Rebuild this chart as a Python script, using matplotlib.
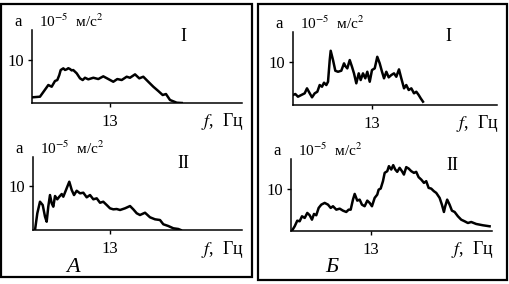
import matplotlib
matplotlib.use("Agg")
import matplotlib.pyplot as plt
from matplotlib.patches import Rectangle

plt.rcParams['font.family'] = ['Liberation Serif', 'DejaVu Serif']
plt.rcParams['mathtext.fontset'] = 'stix'

# ---------------- data (f in Hz, a in 1e-5 m/s^2) ----------------
a1_f = [0.12, 1.33, 2.33, 2.72, 3.28, 3.83, 4.22, 4.55, 4.78, 5.22, 5.5, 5.78, 6.05, 6.33, 6.6, 6.88,
        7.45, 8.0, 8.45, 8.83, 9.38, 10.22, 11.05, 11.88, 12.72, 13.55, 14.22, 14.95, 15.78,
        16.33, 17.17, 17.88, 18.55, 19.38, 20.22, 21.05, 21.78, 22.33, 23.0, 24.12, 24.95]
a1_a = [1.33, 1.47, 3.42, 4.19, 3.79, 5.12, 5.35, 6.51, 7.67, 8.07, 7.7, 7.84, 8.1, 7.91, 7.6, 7.67,
        6.91, 5.74, 5.35, 5.88, 5.51, 5.88, 5.58, 6.21, 5.58, 4.95, 5.58, 5.35, 6.12,
        5.88, 6.67, 5.74, 6.12, 4.95, 3.79, 2.79, 1.86, 2.09, 0.70, 0.07, 0.0]

a2_f = [0.34, 0.73, 1.18, 1.64, 2.03, 2.31, 2.58, 2.87, 3.16, 3.43, 3.72, 4.10, 4.44, 4.85, 5.12,
        5.57, 5.79, 6.13, 6.54, 6.93, 7.38, 7.94, 8.50, 9.07, 9.63, 10.19, 10.76, 11.32, 11.87,
        12.45, 13.01, 13.56, 14.14, 14.70, 15.54, 16.39, 16.94, 17.52, 18.07, 18.92, 19.76,
        20.61, 21.45, 22.01, 22.85, 23.70, 24.54, 24.95]
a2_a = [0.0, 3.80, 6.43, 5.68, 3.02, 1.89, 5.30, 7.95, 6.07, 5.30, 7.73, 6.98, 7.57, 8.18, 7.57,
        9.09, 9.84, 10.98, 9.09, 7.95, 8.93, 8.34, 8.48, 7.43, 7.95, 6.98, 7.20, 6.20, 6.43,
        5.68, 4.93, 4.70, 4.77, 4.55, 4.93, 5.45, 4.70, 3.80, 3.41, 3.93, 2.89,
        2.43, 2.27, 1.30, 0.91, 0.39, 0.23, 0.0]

b1_f = [0.0, 0.38, 0.82, 1.37, 1.92, 2.30, 2.75, 3.13, 3.57, 4.00, 4.39, 4.77, 5.10, 5.48, 5.76,
        6.04, 6.20, 6.58, 6.96, 7.40, 7.94, 8.39, 8.60, 8.93, 9.33, 9.70, 10.03, 10.41, 10.81,
        11.13, 11.51, 11.89, 12.22, 12.62, 12.99, 13.44, 13.86, 14.26, 14.64, 14.97, 15.35,
        15.74, 16.17, 16.61, 16.99, 17.43, 17.81, 18.26, 18.63, 19.03, 19.46, 19.90, 20.28,
        20.67, 21.00, 21.38]
b1_a = [2.33, 2.56, 1.93, 2.33, 2.72, 3.88, 2.72, 1.79, 2.72, 3.09, 4.65, 4.26, 5.19, 4.65, 5.42,
        10.47, 12.63, 10.47, 7.98, 7.74, 7.98, 9.70, 9.07, 8.53, 10.47, 8.91, 7.37, 5.05, 7.37,
        5.81, 7.37, 6.21, 7.74, 5.42, 8.14, 8.53, 11.23, 9.70, 7.74, 6.21, 7.74,
        6.44, 6.98, 7.37, 6.58, 8.30, 6.21, 3.88, 4.65, 3.49, 3.88, 2.72, 3.09,
        2.33, 1.56, 0.77]

b2_f = [0.16, 0.60, 1.02, 1.41, 1.79, 2.23, 2.65, 3.04, 3.41, 3.74, 4.11, 4.50, 4.93, 5.48, 6.02,
        6.46, 6.83, 7.37, 7.92, 8.46, 8.99, 9.38, 9.71, 10.08, 10.36, 10.78, 11.17, 11.54, 11.98,
        12.41, 12.80, 13.17, 13.61, 14.03, 14.26, 14.59, 14.96, 15.24, 15.66, 15.93, 16.31,
        16.63, 16.96, 17.28, 17.67, 18.05, 18.37, 18.75, 19.14, 19.56, 20.0, 20.37, 20.76,
        21.19, 21.63, 22.0, 22.39, 22.81, 23.25, 23.63, 24.18, 24.55, 24.88, 25.09, 25.41,
        25.80, 26.18, 26.62, 27.15, 27.69, 28.24, 28.78, 29.32, 30.13, 31.22, 32.31]
b2_a = [0.07, 1.12, 2.45, 2.31, 3.50, 3.10, 4.29, 3.74, 2.69, 4.05, 3.74, 5.48, 6.26, 6.67, 6.26,
        5.48, 5.88, 5.07, 5.31, 4.83, 4.52, 5.07, 5.07, 7.45, 8.81, 7.21, 7.45, 6.26, 5.88,
        7.21, 6.67, 5.88, 7.86, 8.64, 9.83, 10.07, 11.83, 13.81, 14.21, 15.40, 14.60,
        15.64, 14.60, 14.05, 15.00, 14.21, 13.40, 15.17, 14.83, 14.21, 13.81, 14.05, 12.79,
        12.21, 11.43, 11.83, 10.24, 10.07, 9.45, 9.05, 7.86, 6.26, 4.52, 5.88, 7.45,
        6.26, 4.83, 4.52, 3.50, 2.69, 2.31, 1.90, 2.14, 1.67, 1.36, 1.12]

y_ticks = [10]
y_tick_labels = ["10"]
x_ticks = [13]
x_tick_labels = ["13"]
panel_labels = ["I", "II", "I", "II"]
group_labels = ["A", "Б"]

W, H = 510, 284
fig = plt.figure(figsize=(W / 100, H / 100), dpi=100)


def px_rect(left, top, right, bottom):
    return [left / W, 1 - bottom / H, (right - left) / W, (bottom - top) / H]


def ftext(x, y, s, **kw):
    fig.text(x / W, 1 - y / H, s, **kw)


panels = [
    ((32, 30, 242, 103), 35.0, 17.0, a1_f, a1_a, (183, 36), 0),
    ((33, 157, 242, 230), 35.3, 16.6, a2_f, a2_a, (183, 164), 1),
    ((293, 32, 497, 105), 33.55, 17.0, b1_f, b1_a, (448, 36), 2),
    ((291, 159, 492, 231), 32.7, 17.1, b2_f, b2_a, (452, 166), 3),
]

for (box, xmax, ymax, fx, ay, rpos, k) in panels:
    l, t, r, b = box
    ax = fig.add_axes(px_rect(l, t, r, b))
    ax.plot(fx, ay, color='black', lw=1.8, solid_joinstyle='round')
    ax.set_xlim(0, xmax)
    ax.set_ylim(0, ymax)
    for s in ['top', 'right']:
        ax.spines[s].set_visible(False)
    for s in ['left', 'bottom']:
        ax.spines[s].set_linewidth(1.1)
    ax.set_xticks(x_ticks)
    ax.set_xticklabels(x_tick_labels)
    ax.set_yticks(y_ticks)
    ax.set_yticklabels(y_tick_labels)
    ax.tick_params(axis='both', direction='out', length=3, width=1.0, labelsize=12)
    ax.tick_params(axis='x', pad=5)
    ax.tick_params(axis='y', pad=3)
    ax.patch.set_alpha(0)
    ftext(l - 14, t - 8, "a", fontsize=12, ha='center', va='center')
    ftext(l + 7, t - 9, "10$^{-5}$  м/с$^{2}$", fontsize=11, ha='left', va='center')
    ftext(r + 2, b + 19, "$f$,  Гц", fontsize=13, ha='right', va='center')
    ftext(rpos[0], rpos[1], panel_labels[k], fontsize=13, ha='center', va='center')

ftext(73, 268, group_labels[0], fontsize=16, style='italic', ha='center', va='center')
ftext(332, 268, group_labels[1], fontsize=16, style='italic', ha='center', va='center')

for (x0, y0, x1, y1) in [(1.5, 4, 252, 277), (258, 4, 507, 280)]:
    fig.add_artist(Rectangle((x0 / W, 1 - y1 / H), (x1 - x0) / W, (y1 - y0) / H,
                             transform=fig.transFigure, fill=False, lw=1.6, ec='black'))

fig.savefig("out.png", dpi=100)
